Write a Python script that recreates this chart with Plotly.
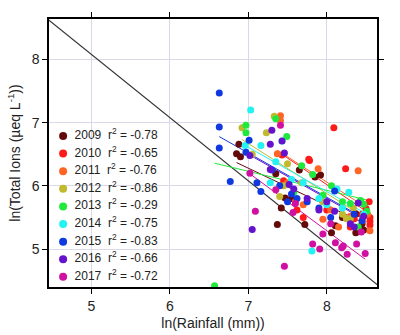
import numpy as np
import plotly.graph_objects as go

# ln(rainfall, mm) vs ln(total ions, ueq/L) per year
years = ["2009", "2010", "2011", "2012", "2013", "2014", "2015", "2016", "2017"]
r2_values = ["-0.78", "-0.65", "-0.76", "-0.86", "-0.29", "-0.75", "-0.83", "-0.66", "-0.72"]
colors = ["#640a0a", "#ff1a1a", "#ff6526", "#c2ba2e", "#1fea3c", "#22f2f2", "#1038e0", "#6512cf", "#d010a0"]

x_2009 = [6.85, 6.88, 6.90, 7.35, 7.37, 7.42, 7.47, 7.55, 7.65, 7.72, 7.85, 7.92, 8.06, 8.11, 8.20, 8.30, 8.37, 8.37, 8.45, 8.47]
y_2009 = [6.51, 6.66, 6.46, 6.19, 5.39, 5.65, 5.81, 5.80, 6.25, 5.39, 6.14, 6.17, 5.26, 5.37, 5.50, 5.45, 5.56, 5.26, 5.40, 5.30]

x_2010 = [7.43, 7.45, 7.62, 7.70, 7.77, 7.78, 8.00, 8.09, 8.24, 8.30, 8.35, 8.45, 8.50, 8.54, 8.55, 8.55, 8.55]
y_2010 = [6.49, 6.08, 5.62, 5.50, 6.42, 6.40, 5.62, 6.92, 6.27, 5.35, 5.48, 5.55, 5.64, 5.75, 5.44, 5.50, 5.38]

x_2011 = [7.37, 7.41, 7.41, 7.50, 7.60, 7.70, 7.89, 7.95, 8.05, 8.15, 8.30, 8.40, 8.45, 8.52, 8.55]
y_2011 = [6.51, 7.11, 7.03, 6.05, 5.75, 5.70, 6.27, 5.47, 5.62, 5.35, 5.52, 6.24, 5.45, 5.55, 5.29]

x_2012 = [6.92, 7.05, 7.23, 7.33, 7.40, 7.45, 7.50, 7.68, 7.95, 8.20, 8.25, 8.30, 8.34]
y_2012 = [6.92, 6.50, 6.84, 7.10, 5.83, 6.00, 6.35, 6.05, 5.75, 5.55, 5.48, 5.48, 5.65]

x_2013 = [6.57, 6.97, 6.97, 7.35, 7.49, 7.58, 7.68, 7.82, 7.95, 8.06, 8.20, 8.30, 8.40, 8.43, 8.47, 8.51]
y_2013 = [4.42, 6.96, 6.84, 7.06, 6.78, 5.90, 6.32, 6.18, 5.85, 6.00, 5.75, 5.72, 5.35, 5.77, 5.71, 5.60]

x_2014 = [6.96, 7.03, 7.16, 7.28, 7.35, 7.43, 7.55, 7.70, 7.81, 7.90, 8.00, 8.13, 8.20, 8.28, 8.47]
y_2014 = [6.64, 7.20, 6.64, 6.05, 6.38, 6.71, 6.10, 6.05, 4.97, 5.80, 5.70, 5.95, 5.65, 5.90, 5.55]

x_2015 = [6.63, 6.63, 6.63, 6.77, 6.97, 7.01, 7.11, 7.16, 7.30, 7.40, 7.50, 7.55, 7.62, 7.75, 7.90, 8.05, 8.10, 8.35, 8.45]
y_2015 = [7.47, 6.93, 6.60, 6.07, 6.53, 6.72, 6.05, 5.91, 6.25, 6.00, 5.75, 5.87, 5.80, 5.75, 5.65, 5.50, 5.92, 5.55, 5.45]

x_2016 = [7.02, 7.05, 7.28, 7.28, 7.30, 7.43, 7.46, 7.52, 7.58, 7.75, 7.90, 8.00, 8.10, 8.30, 8.35, 8.40, 8.47]
y_2016 = [6.48, 5.31, 6.66, 6.26, 6.88, 6.71, 6.52, 6.02, 5.95, 5.80, 5.62, 5.75, 5.60, 5.40, 5.35, 5.73, 5.52]

x_2017 = [7.02, 7.09, 7.35, 7.41, 7.46, 7.57, 7.60, 7.82, 7.91, 7.95, 8.05, 8.11, 8.19, 8.21, 8.26, 8.38, 8.44, 8.49]
y_2017 = [6.20, 5.60, 5.94, 6.96, 4.73, 5.58, 5.72, 5.08, 5.00, 5.24, 5.40, 5.10, 5.02, 5.05, 4.92, 5.08, 5.27, 4.93]

x_data = [x_2009, x_2010, x_2011, x_2012, x_2013, x_2014, x_2015, x_2016, x_2017]
y_data = [y_2009, y_2010, y_2011, y_2012, y_2013, y_2014, y_2015, y_2016, y_2017]

# Least-squares fit per year: y = slope * x + intercept
fit_slope = [-0.59, -0.84, -0.80, -0.79, -0.30, -0.70, -0.70, -0.70, -0.92]
fit_intercept = [10.41, 12.74, 12.46, 12.20, 8.33, 11.51, 11.42, 11.40, 12.65]

# Reference line y = -x + c
ref_slope = -1.0
ref_intercept = 13.08

x_range = [4.46, 8.64]
y_range = [4.40, 8.64]

fig = go.Figure()

ref_x = np.array([4.3, 8.8])
fig.add_trace(go.Scatter(x=ref_x, y=ref_slope * ref_x + ref_intercept, mode="lines",
                         line=dict(color="#333333", width=1.2), showlegend=False,
                         hoverinfo="skip"))

for col, xs, m, b in zip(colors, x_data, fit_slope, fit_intercept):
    xs = np.array(xs)
    lx = np.array([xs.min(), xs.max()])
    fig.add_trace(go.Scatter(x=lx, y=m * lx + b, mode="lines",
                             line=dict(color=col, width=1), showlegend=False,
                             hoverinfo="skip"))

for yr, col, xs, ys in zip(years, colors, x_data, y_data):
    fig.add_trace(go.Scatter(x=xs, y=ys, mode="markers", name=yr, showlegend=False,
                             marker=dict(color=col, size=7, line=dict(width=0))))

# Key in the lower-left corner, laid out on a hidden unit-square axis pair
n = len(years)
key_y = 0.5634 - 0.0657 * np.arange(n)
key_labels = [f"{yr}  r<sup>2</sup> = {r2}" for yr, r2 in zip(years, r2_values)]
fig.add_trace(go.Scatter(x=[0.043] * n, y=key_y, mode="markers", xaxis="x2", yaxis="y2",
                         marker=dict(color=colors, size=8, line=dict(width=0)),
                         showlegend=False, hoverinfo="skip"))
fig.add_trace(go.Scatter(x=[0.078] * n, y=key_y, mode="text", xaxis="x2", yaxis="y2",
                         text=key_labels, textposition="middle right",
                         textfont=dict(size=12, color="#222"),
                         showlegend=False, hoverinfo="skip"))

axis_common = dict(showline=True, linecolor="black", linewidth=1.5, mirror="ticks",
                   ticks="outside", ticklen=5, tickwidth=1.2, tickcolor="black",
                   showgrid=True, gridcolor="#d9d9ea", gridwidth=1, zeroline=False,
                   automargin=False,
                   tickfont=dict(size=14, color="#222"),
                   title_font=dict(size=14, color="#222"))

fig.update_xaxes(range=x_range, tickvals=[5, 6, 7, 8], title_text="ln(Rainfall (mm))",
                 title_standoff=6, **axis_common)
fig.update_yaxes(range=y_range, tickvals=[5, 6, 7, 8],
                 title_text="ln(Total Ions (µeq L<sup>-1</sup>))",
                 title_standoff=8, **axis_common)

fig.update_layout(
    width=400, height=335,
    margin=dict(l=49, r=23, t=19, b=48),
    paper_bgcolor="white", plot_bgcolor="white",
    font=dict(family="Liberation Sans, Arial, sans-serif", color="#222"),
    xaxis2=dict(overlaying="x", range=[0, 1], visible=False, fixedrange=True),
    yaxis2=dict(overlaying="y", range=[0, 1], visible=False, fixedrange=True),
    showlegend=False,
)

fig.write_html("out.html")
